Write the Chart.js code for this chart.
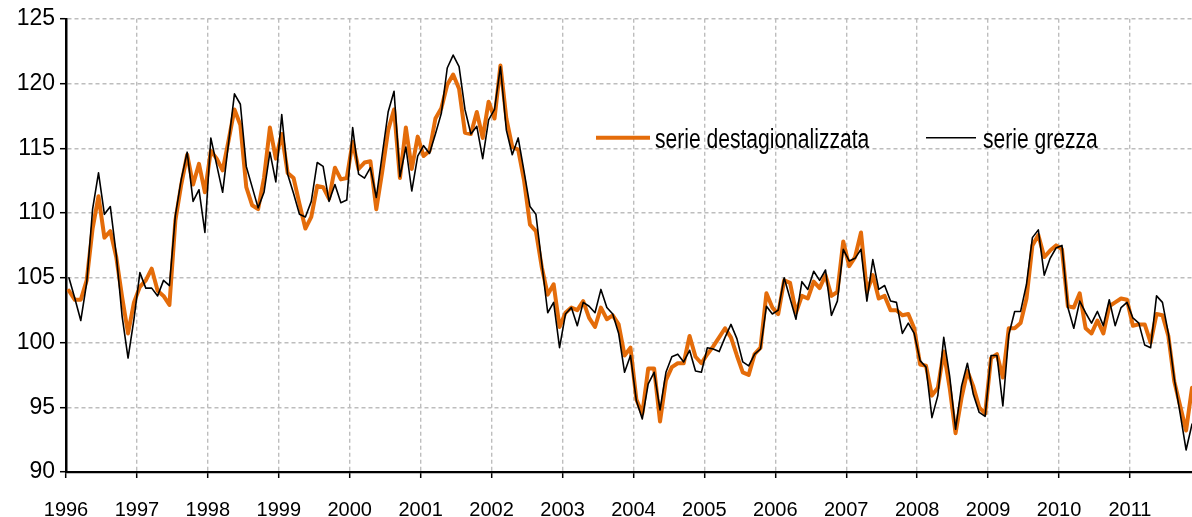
<!DOCTYPE html>
<html>
<head>
<meta charset="utf-8">
<script src="https://cdn.jsdelivr.net/npm/chart.js@4"></script>
<style>
  body { margin: 0; background: #fff; }
  #wrap { width: 1192px; height: 517px; }
</style>
</head>
<body>
<div id="wrap"><canvas id="myChart"></canvas></div>
<script>
// Year labels, one every 12 months starting Jan 1996
const years = ['1996', '1997', '1998', '1999', '2000', '2001', '2002', '2003',
    '2004', '2005', '2006', '2007', '2008', '2009', '2010', '2011'];

// Monthly values, Jan 1996 - Nov 2011
const serieDestag = [
    104.0, 103.3, 103.3, 104.8, 108.8, 111.3, 108.1, 108.6, 106.6, 103.5, 100.7, 103.1,
    104.3, 104.8, 105.7, 104.0, 103.6, 102.9, 109.4, 112.2, 114.5, 112.2, 113.8, 111.6,
    114.8, 114.2, 113.3, 115.6, 118.0, 116.8, 112.0, 110.6, 110.3, 112.7, 116.6, 114.2,
    116.1, 113.1, 112.7, 110.7, 108.8, 109.7, 112.1, 112.0, 111.1, 113.5, 112.6, 112.7,
    115.5, 113.4, 113.9, 114.0, 110.3, 113.2, 116.4, 118.0, 112.7, 116.6, 113.4, 115.9,
    114.4, 114.8, 117.3, 118.1, 119.9, 120.7, 119.6, 116.2, 116.1, 117.8, 115.8, 118.6,
    117.3, 121.4, 117.3, 115.1, 114.9, 112.5, 109.1, 108.6, 105.8, 103.7, 104.5, 101.2,
    102.3, 102.7, 102.5, 103.2, 101.9, 101.2, 102.7, 101.8, 102.1, 101.4, 99.0, 99.6,
    95.6, 94.5, 98.0, 98.0, 93.9, 97.1, 98.1, 98.4, 98.4, 100.5, 98.9, 98.4,
    99.1, 99.7, 100.4, 101.1, 100.4, 99.0, 97.7, 97.5, 99.1, 99.6, 103.8, 102.7,
    102.2, 104.8, 104.6, 102.3, 103.6, 103.4, 104.7, 104.2, 105.2, 103.6, 103.9, 107.8,
    105.9, 106.6, 108.5, 103.9, 105.2, 103.4, 103.6, 102.5, 102.5, 102.1, 102.2, 101.1,
    98.3, 98.2, 95.9, 96.5, 99.3, 96.5, 93.0, 95.7, 97.8, 96.6, 95.0, 94.5,
    98.8, 99.1, 97.3, 101.1, 101.1, 101.5, 103.4, 107.5, 108.3, 106.6, 107.1, 107.5,
    107.2, 102.8, 102.7, 103.8, 101.1, 100.7, 101.7, 100.7, 102.8, 103.1, 103.4, 103.3,
    101.3, 101.4, 101.4, 100.0, 102.2, 102.1, 100.5, 97.0, 95.1, 93.2, 96.5
];

const serieGrezza = [
    105.0, 103.4, 101.7, 104.6, 110.3, 113.1, 109.9, 110.5, 106.8, 102.0, 98.8, 101.8,
    105.4, 104.2, 104.2, 103.6, 104.8, 104.4, 109.8, 112.6, 114.7, 110.9, 111.8, 108.5,
    115.8, 113.7, 111.6, 115.4, 119.2, 118.4, 113.6, 112.0, 110.4, 111.6, 114.7, 112.4,
    117.6, 113.0, 111.5, 109.9, 109.7, 110.9, 113.9, 113.6, 110.9, 112.2, 110.8, 111.0,
    116.6, 113.0, 112.7, 113.5, 111.2, 114.5, 117.8, 119.4, 112.8, 115.1, 111.7, 114.4,
    115.2, 114.6, 116.1, 117.7, 121.2, 122.2, 121.3, 118.0, 116.1, 116.7, 114.2, 117.2,
    118.0, 121.3, 116.4, 114.5, 115.8, 113.2, 110.5, 109.9, 106.1, 102.3, 103.1, 99.6,
    102.2, 102.7, 101.3, 103.1, 102.8, 102.3, 104.1, 102.7, 102.2, 100.7, 97.7, 99.0,
    95.5, 94.1, 96.8, 97.7, 94.8, 97.7, 98.9, 99.1, 98.5, 99.4, 97.8, 97.7,
    99.6, 99.5, 99.3, 100.4, 101.4, 100.3, 98.5, 98.2, 99.1, 99.5, 102.8, 102.2,
    102.5, 105.0, 103.4, 101.8, 104.7, 104.1, 105.5, 104.8, 105.6, 102.1, 103.2, 107.2,
    106.3, 106.5, 107.2, 103.2, 106.4, 104.1, 104.4, 103.2, 103.1, 100.7, 101.5, 100.7,
    98.6, 98.1, 94.2, 95.9, 100.4, 97.4, 93.3, 96.6, 98.4, 96.0, 94.6, 94.3,
    99.0, 99.0, 95.1, 100.6, 102.4, 102.4, 104.5, 108.1, 108.7, 105.2, 106.5, 107.3,
    107.5, 102.7, 101.1, 103.2, 102.3, 101.5, 102.4, 101.3, 103.3, 101.3, 102.7, 103.1,
    101.9, 101.5, 99.8, 99.6, 103.6, 103.1, 100.7, 97.2, 94.5, 91.7, 93.7
];

// each month sits in the middle of its slot on the x axis
function toPoints(values) {
    return values.map((v, i) => ({ x: i + 0.5, y: v }));
}

// legend sits inside the plot, drawn by hand
const insideLegend = {
    id: 'insideLegend',
    afterDatasetsDraw(chart) {
        const ctx = chart.ctx;
        const area = chart.chartArea;
        const spots = [
            { from: 530, to: 584, text: 589 },
            { from: 860, to: 910, text: 917 }
        ];
        const y = area.top + 119;
        chart.data.datasets.forEach((ds, k) => {
            const s = spots[k];
            ctx.save();
            ctx.strokeStyle = ds.borderColor;
            ctx.lineWidth = ds.borderWidth;
            ctx.beginPath();
            ctx.moveTo(area.left + s.from, y);
            ctx.lineTo(area.left + s.to, y);
            ctx.stroke();
            ctx.fillStyle = '#000';
            ctx.font = '27px "Liberation Sans", Arial, sans-serif';
            ctx.textBaseline = 'alphabetic';
            ctx.translate(area.left + s.text, y + 10);
            ctx.scale(0.78, 1);
            ctx.fillText(ds.label, 0, 0);
            ctx.restore();
        });
    }
};

const ctx = document.getElementById('myChart').getContext('2d');

new Chart(ctx, {
    type: 'line',
    data: {
        datasets: [{
            label: 'serie destagionalizzata',
            data: toPoints(serieDestag),
            borderColor: '#E46C0A',
            borderWidth: 4,
            order: 1
        }, {
            label: 'serie grezza',
            data: toPoints(serieGrezza),
            borderColor: '#000000',
            borderWidth: 1.6,
            order: 0
        }]
    },
    options: {
        responsive: true,
        maintainAspectRatio: false,
        animation: false,
        devicePixelRatio: 1,
        layout: { padding: { top: 17, right: 0, left: 0, bottom: 0 } },
        elements: {
            point: { radius: 0 },
            line: { tension: 0, borderJoinStyle: 'round', borderCapStyle: 'round' }
        },
        plugins: {
            legend: { display: false },
            tooltip: { enabled: false }
        },
        scales: {
            x: {
                type: 'linear',
                min: 0,
                max: 190.5,
                afterFit: scale => { scale.height = 45; },
                grid: {
                    color: '#bdbdbd',
                    lineWidth: 1.4,
                    tickColor: '#000',
                    tickWidth: 1.5,
                    tickLength: 6
                },
                border: { color: '#000', width: 2.2, dash: [4, 3] },
                ticks: {
                    stepSize: 12,
                    includeBounds: false,
                    autoSkip: false,
                    maxRotation: 0,
                    padding: 20,
                    color: '#000',
                    font: { family: '"Liberation Sans", Arial, sans-serif', size: 20 },
                    callback: value => years[value / 12]
                }
            },
            y: {
                min: 90,
                max: 125,
                afterFit: scale => { scale.width = 66; },
                grid: {
                    color: '#bdbdbd',
                    lineWidth: 1.4,
                    tickColor: '#000',
                    tickWidth: 1.5,
                    tickLength: 6
                },
                border: { color: '#000', width: 2.5, dash: [4, 3] },
                ticks: {
                    stepSize: 5,
                    padding: 5,
                    color: '#000',
                    font: { family: '"Liberation Sans", Arial, sans-serif', size: 23 }
                }
            }
        }
    },
    plugins: [insideLegend]
});
</script>
</body>
</html>
